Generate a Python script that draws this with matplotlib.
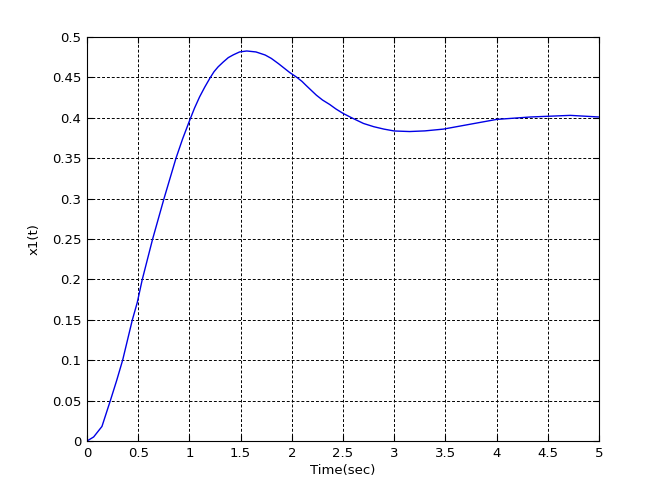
import matplotlib
matplotlib.use('Agg')
import matplotlib.pyplot as plt

# values
t = [0.0, 0.065, 0.146, 0.228, 0.29, 0.348, 0.443, 0.49, 0.54, 0.641, 0.752, 0.869,
     0.934, 0.97, 1.0, 1.05, 1.1, 1.15, 1.2, 1.24, 1.28, 1.33, 1.38, 1.43, 1.49,
     1.56, 1.65, 1.74, 1.8, 1.87, 1.93, 1.98, 2.05, 2.1, 2.14, 2.19, 2.24, 2.3,
     2.37, 2.43, 2.5, 2.585, 2.7, 2.8, 2.9, 3.0, 3.15, 3.3, 3.48, 3.74, 4.0, 4.33,
     4.72, 5.0]
x1 = [0.0, 0.005, 0.018, 0.05, 0.075, 0.1, 0.15, 0.171, 0.2, 0.25, 0.30, 0.35,
      0.374, 0.386, 0.396, 0.412, 0.426, 0.438, 0.449, 0.457, 0.463, 0.469, 0.4745,
      0.478, 0.4815, 0.4827, 0.4815, 0.4777, 0.4735, 0.467, 0.461, 0.456, 0.45,
      0.445, 0.44, 0.434, 0.428, 0.422, 0.4165, 0.411, 0.4055, 0.40, 0.393, 0.389,
      0.386, 0.3837, 0.383, 0.3838, 0.386, 0.392, 0.398, 0.401, 0.403, 0.401]

xticks = [0, 0.5, 1, 1.5, 2, 2.5, 3, 3.5, 4, 4.5, 5]
yticks = [0, 0.05, 0.1, 0.15, 0.2, 0.25, 0.3, 0.35, 0.4, 0.45, 0.5]

fig = plt.figure(figsize=(6.61, 4.96), dpi=100)
ax = fig.add_axes([87 / 661, 1 - 441 / 496, 512 / 661, 404 / 496])
ax.plot(t, x1, color='#0000e6', linewidth=1.0)

ax.set_xlim(0, 5)
ax.set_ylim(0, 0.5)
ax.set_xticks(xticks)
ax.set_xticklabels(['0', '0.5', '1', '1.5', '2', '2.5', '3', '3.5', '4', '4.5', '5'])
ax.set_yticks(yticks)
ax.set_yticklabels(['0', '0.05', '0.1', '0.15', '0.2', '0.25', '0.3', '0.35', '0.4', '0.45', '0.5'])
ax.tick_params(direction='in', top=True, right=True, length=4, labelsize=9.5, pad=4)
ax.grid(True, color='black', linestyle=(0, (3, 2)), linewidth=0.7)
for s in ax.spines.values():
    s.set_linewidth(0.8)

ax.set_xlabel('Time(sec)', fontsize=9.5, labelpad=3)
ax.set_ylabel('x1(t)', fontsize=9.5, labelpad=8)

fig.savefig('out.png', dpi=100)
